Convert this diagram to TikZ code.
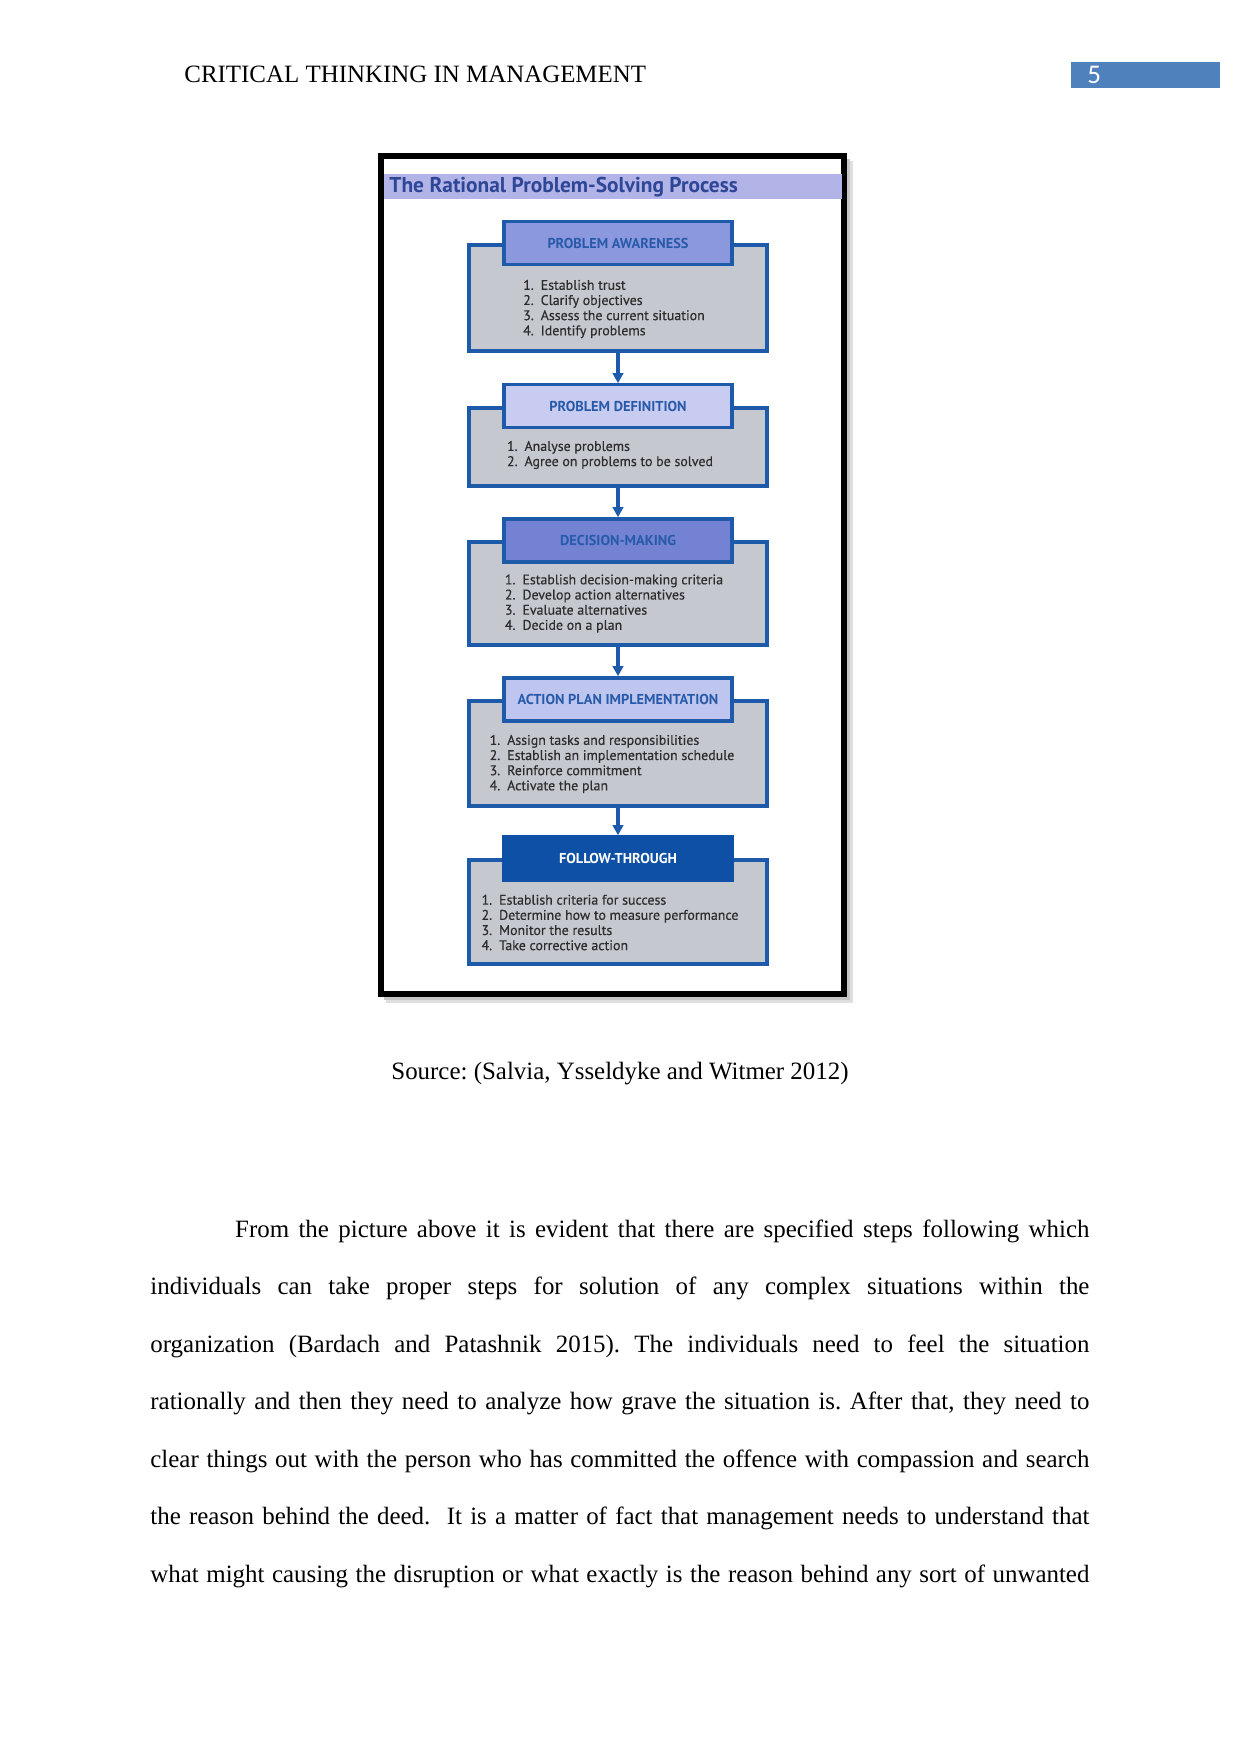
\documentclass[tikz,border=0pt]{standalone}
\usepackage{fontspec}
\setmainfont{Liberation Serif}
\newfontfamily\diagfont{PT Sans}
\newfontfamily\itemfont{PT Sans}[FakeBold=0.4]
\newfontfamily\numfont{Carlito}
\usetikzlibrary{arrows.meta, positioning}

\definecolor{pagebox}{RGB}{79,129,189}
\definecolor{titlebar}{RGB}{178,180,232}
\definecolor{titleblue}{RGB}{45,70,150}
\definecolor{stepgrey}{RGB}{197,200,207}
\definecolor{stepline}{RGB}{30,90,170}
\definecolor{headtext}{RGB}{40,90,170}
\definecolor{itemtext}{RGB}{45,45,45}
\definecolor{hdone}{RGB}{140,152,222}
\definecolor{hdtwo}{RGB}{200,204,240}
\definecolor{hdthree}{RGB}{115,130,210}
\definecolor{hdfour}{RGB}{190,197,238}
\definecolor{hdfive}{RGB}{13,80,165}

\def\pxu{0.16922mm}

\tikzset{
  bodybox/.style={draw=stepline, line width=1.6pt, fill=stepgrey, minimum width={298*\pxu}, inner sep=0pt},
  headbox/.style={draw=stepline, line width=1.6pt, minimum width={228*\pxu}, minimum height={43*\pxu}, inner sep=0pt, text=headtext, font=\diagfont\fontsize{6.9}{7}\selectfont\bfseries},
  items/.style={align=left, text=itemtext, inner sep=0pt, font=\itemfont\fontsize{6.7}{7.3}\selectfont},
  flow/.style={draw=stepline, line width=1.6pt, -{Triangle[length=4.8pt,width=5pt]}},
  pagetext/.style={inner sep=0pt, anchor=base west, font=\fontsize{12}{14}\selectfont},
}

\begin{document}
\frenchspacing
\begin{tikzpicture}[x=\pxu, y=-\pxu]
\useasboundingbox (0,0) rectangle (1241,1754);

% running head
\node[pagetext] (runhead) at (184,83) {CRITICAL THINKING IN MANAGEMENT};
\fill[pagebox] (1071,62) rectangle (1220,88);
\node[pagetext, text=white, font=\numfont\fontsize{13}{14}\selectfont] (pagenum) at (1087,84) {5};

% figure frame with shadow
\fill[gray!25] (386,161) rectangle (853,1003);
\fill[gray!45] (384,159) rectangle (850,1000);
\draw[line width=3.1pt, fill=white] (381,156) rectangle (844,994);
\fill[titlebar] (384,174) rectangle (842,199);
\node[anchor=west, inner sep=0pt, text=titleblue, font=\diagfont\fontsize{10.3}{11}\selectfont\bfseries] (title) at (389,187) {The Rational Problem-Solving Process};

% step 1
\node[bodybox, minimum height={106*\pxu}] (body1) at (618,298) {};
\node[headbox, fill=hdone] (head1) at (body1.north) {PROBLEM AWARENESS};
\node[items] (list1) at (614,309) {1.\enspace Establish trust\\2.\enspace Clarify objectives\\3.\enspace Assess the current situation\\4.\enspace Identify problems};

% step 2
\node[bodybox, minimum height={78*\pxu}] (body2) at (618,447) {};
\node[headbox, fill=hdtwo] (head2) at (body2.north) {PROBLEM DEFINITION};
\node[items] (list2) at (610,455) {1.\enspace Analyse problems\\2.\enspace Agree on problems to be solved};

% step 3
\node[bodybox, minimum height={103*\pxu}] (body3) at (618,593.5) {};
\node[headbox, fill=hdthree] (head3) at (body3.north) {DECISION-MAKING};
\node[items] (list3) at (614,603.5) {1.\enspace Establish decision-making criteria\\2.\enspace Develop action alternatives\\3.\enspace Evaluate alternatives\\4.\enspace Decide on a plan};

% step 4
\node[bodybox, minimum height={105*\pxu}] (body4) at (618,753.5) {};
\node[headbox, fill=hdfour] (head4) at (body4.north) {ACTION PLAN IMPLEMENTATION};
\node[items] (list4) at (612,764) {1.\enspace Assign tasks and responsibilities\\2.\enspace Establish an implementation schedule\\3.\enspace Reinforce commitment\\4.\enspace Activate the plan};

% step 5
\node[bodybox, minimum height={104*\pxu}] (body5) at (618,912) {};
\node[headbox, fill=hdfive, draw=hdfive, text=white] (head5) at (body5.north) {FOLLOW-THROUGH};
\node[items] (list5) at (610,922.5) {1.\enspace Establish criteria for success\\2.\enspace Determine how to measure performance\\3.\enspace Monitor the results\\4.\enspace Take corrective action};

\draw[flow] (body1.south) -- (head2.north);
\draw[flow] (body2.south) -- (head3.north);
\draw[flow] (body3.south) -- (head4.north);
\draw[flow] (body4.south) -- (head5.north);

% caption and text
\node[pagetext, anchor=base] (source) at (620,1079) {Source: (Salvia, Ysseldyke and Witmer 2012)};

\node[pagetext] (line1) at (150,1237) {\makebox[158.9mm][s]{\hspace*{40.8pt}From the picture above it is evident that there are specified steps following which}};
\node[pagetext] (line2) at (150,1294.5) {\makebox[158.9mm][s]{individuals can take proper steps for solution of any complex situations within the}};
\node[pagetext] (line3) at (150,1352) {\makebox[158.9mm][s]{organization (Bardach and Patashnik 2015). The individuals need to feel the situation}};
\node[pagetext] (line4) at (150,1409.5) {\makebox[158.9mm][s]{rationally and then they need to analyze how grave the situation is. After that, they need to}};
\node[pagetext] (line5) at (150,1467) {\makebox[158.9mm][s]{clear things out with the person who has committed the offence with compassion and search}};
\node[pagetext] (line6) at (150,1524.5) {\makebox[158.9mm][s]{the reason behind the deed.\ \ It is a matter of fact that management needs to understand that}};
\node[pagetext] (line7) at (150,1582) {\makebox[158.9mm][s]{what might causing the disruption or what exactly is the reason behind any sort of unwanted}};
\end{tikzpicture}
\end{document}
